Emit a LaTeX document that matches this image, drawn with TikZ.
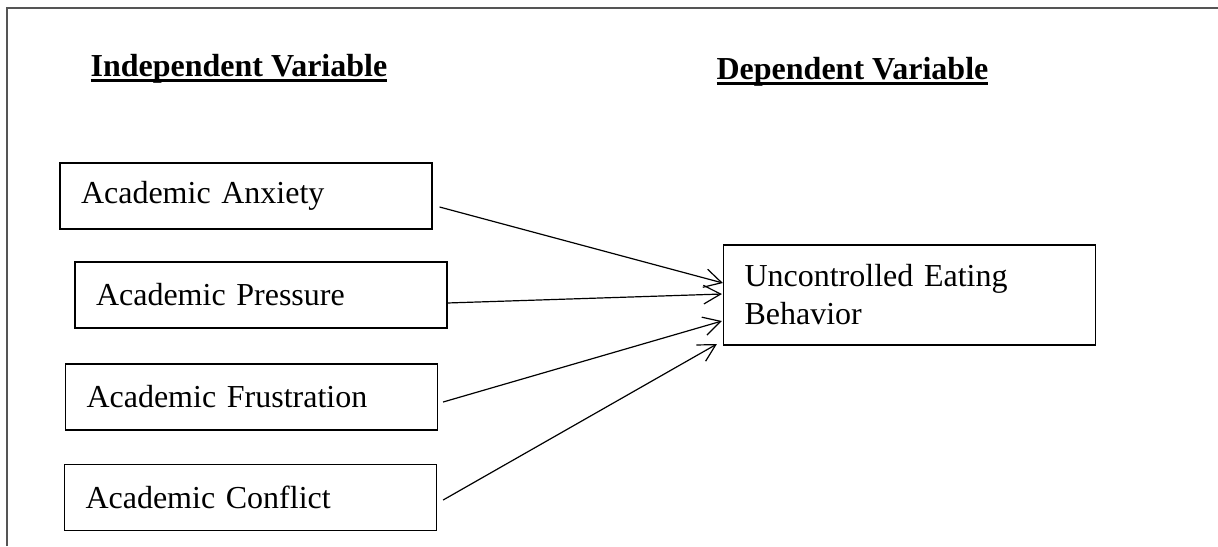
\documentclass[tikz,border=0pt]{standalone}
\usepackage{fontspec}
\setmainfont{Liberation Serif}
\usetikzlibrary{arrows.meta,calc}
\definecolor{framegray}{HTML}{555555}
\newcommand{\ulhead}[1]{\setbox0\hbox{\bfseries #1}\rlap{\rule[-2.4pt]{\wd0}{1.3pt}}\box0}

\begin{document}
\begin{tikzpicture}[
  x=0.375pt, y=-0.375pt,
  line width=0.45pt,
  varbox/.style={rectangle, draw=black, inner xsep=7.875pt, inner ysep=0pt, text width=123.75pt, minimum height=24.75pt, align=left, font=\fontsize{12}{14.25}\selectfont},
  head/.style={anchor=base west, inner sep=0pt, font=\fontsize{12}{14}\selectfont},
  flow/.style={-{Straight Barb[length=6.4pt,width=7pt]}, draw=black, line width=0.45pt}
]
  \useasboundingbox (0,0) rectangle (1218,546);
  \draw[framegray, line width=0.6pt] (7,546) -- (7,8) -- (1218,8);

  \node[head] (ivar) at (90,76) {\ulhead{Independent Variable}};
  \node[head] (dvar) at (716,79) {\ulhead{Dependent Variable}};

  \node[varbox] (anx) at (246,196) {Academic Anxiety};
  \node[varbox] (prs) at (261,295) {Academic Pressure};
  \node[varbox] (frs) at (251.5,397) {Academic Frustration};
  \node[varbox] (cnf) at (250.5,497.5) {Academic Conflict};
  \node[varbox, minimum height=37.5pt] (ucb) at (909.5,295) {Uncontrolled Eating\\Behavior};

  \draw[flow] ($(anx.east)+(7,11)$) -- ($(ucb.west)+(0,-12)$);
  \draw[flow] ($(prs.east)+(-1,8)$) -- ($(ucb.west)+(-1,-1)$);
  \draw[flow] ($(frs.east)+(5,5)$) -- ($(ucb.west)+(-1,26)$);
  \draw[flow] ($(cnf.east)+(6,2.5)$) -- ($(ucb.west)+(-6,49)$);
\end{tikzpicture}
\end{document}
